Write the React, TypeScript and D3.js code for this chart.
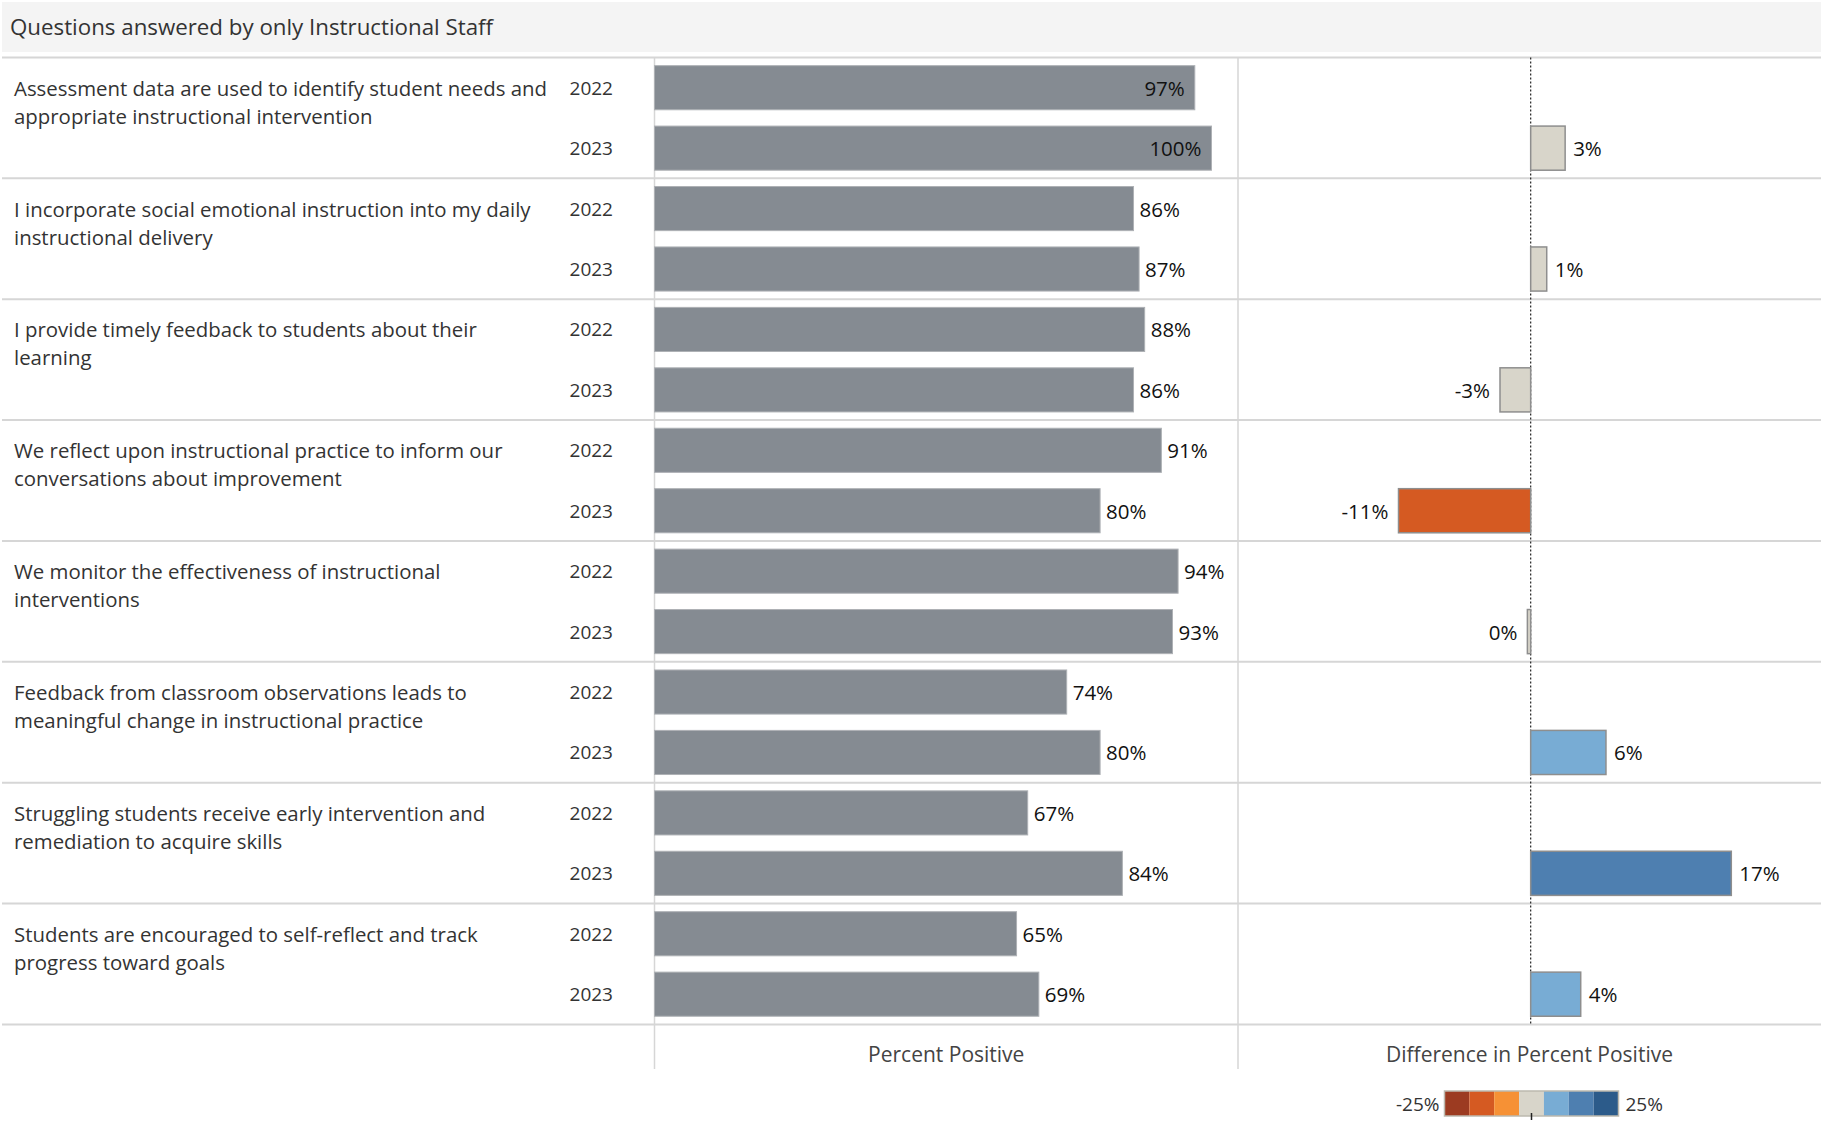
import React from "react";
import * as d3 from "d3";

const title = "Questions answered by only Instructional Staff";
const questions: string[] = [
  "Assessment data are used to identify student needs and\nappropriate instructional intervention",
  "I incorporate social emotional instruction into my daily\ninstructional delivery",
  "I provide timely feedback to students about their\nlearning",
  "We reflect upon instructional practice to inform our\nconversations about improvement",
  "We monitor the effectiveness of instructional\ninterventions",
  "Feedback from classroom observations leads to\nmeaningful change in instructional practice",
  "Struggling students receive early intervention and\nremediation to acquire skills",
  "Students are encouraged to self-reflect and track\nprogress toward goals",
];
const years = ["2022", "2023"];
const pct2022 = [0.97, 0.86, 0.88, 0.91, 0.94, 0.74, 0.67, 0.65];
const pct2023 = [1.0, 0.87, 0.86, 0.8, 0.93, 0.8, 0.84, 0.69];
const diff = [0.0292, 0.0136, -0.026, -0.112, -0.0028, 0.0638, 0.17, 0.0424];
const legendColors = ["#9c3b21", "#d55a22", "#f69135", "#d8d5ca", "#78acd4", "#4e7fb0", "#2c5b8a"];
const legendDomain = [-0.25, 0.25];
const axisTitles = ["Percent Positive", "Difference in Percent Positive"];

const FONT = "'Open Sans', 'Noto Sans', sans-serif";
const W = 1821;
const H = 1123;

export default function App() {
  const rowsTop = 57.5;
  const rowsBottom = 1024.4;
  const panel1X0 = 654.5;
  const panel2X0 = 1238;
  const panelRight = 1821;

  const rowScale = d3.scaleBand<number>().domain(d3.range(questions.length)).range([rowsTop, rowsBottom]);
  const keys: string[] = [];
  questions.forEach((_, i) => years.forEach((y) => keys.push(`${i}-${y}`)));
  const yBand = d3.scaleBand<string>().domain(keys).range([rowsTop, rowsBottom]).paddingInner(0.27).paddingOuter(0.135);

  const x = d3.scaleLinear().domain([0, 1]).range([panel1X0, 1211.5]);
  const xd = d3.scaleLinear().domain([-0.248, 0.246]).range([panel2X0, panelRight]);
  const color = d3.scaleQuantize<string>().domain(legendDomain as [number, number]).range(legendColors);
  const fmt = (v: number) => {
    const r = Math.round(v * 100);
    return `${r === 0 ? 0 : r}%`;
  };

  const bars: { key: string; v: number; year: string; i: number }[] = [];
  questions.forEach((_, i) => {
    bars.push({ key: `${i}-2022`, v: pct2022[i], year: "2022", i });
    bars.push({ key: `${i}-2023`, v: pct2023[i], year: "2023", i });
  });

  const bw = yBand.bandwidth();
  const zeroX = xd(0);

  const legX0 = 1444.5;
  const legX1 = 1618.5;
  const legScale = d3.scaleLinear().domain(legendDomain).range([legX0, legX1]);
  const legStep = (legendDomain[1] - legendDomain[0]) / legendColors.length;

  return (
    <svg width={W} height={H} style={{ position: "absolute", left: 0, top: 0, background: "#fff" }} fontFamily={FONT}>
      <rect x={2} y={2} width={W - 2} height={50} fill="#f4f4f4" />
      <text x={10} y={35} fontSize={22.3} fill="#333">{title}</text>

      <line x1={panel1X0} x2={panel1X0} y1={rowsTop} y2={1069} stroke="#d6d6d6" strokeWidth={1.5} />
      <line x1={panel2X0} x2={panel2X0} y1={rowsTop} y2={1069} stroke="#d6d6d6" strokeWidth={1.5} />

      {d3.range(questions.length + 1).map((k) => {
        const yy = k < questions.length ? rowScale(k)! : rowsBottom;
        return <line key={k} x1={2} x2={W} y1={yy} y2={yy} stroke="#d6d6d6" strokeWidth={2} />;
      })}

      {questions.map((q, i) => {
        const c = yBand(`${i}-2022`)! + bw / 2;
        return (
          <text key={i} x={14} y={c} fontSize={20.4} fill="#333" dominantBaseline="central">
            {q.split("\n").map((line, j) => (
              <tspan key={j} x={14} dy={j === 0 ? 0 : 28}>{line}</tspan>
            ))}
          </text>
        );
      })}

      {bars.map((b) => (
        <text key={"y" + b.key} x={613} y={yBand(b.key)! + bw / 2} fontSize={19} fill="#333" textAnchor="end" dominantBaseline="central">
          {b.year}
        </text>
      ))}

      {bars.map((b) => {
        const y0 = yBand(b.key)!;
        const xe = x(b.v);
        const label = fmt(b.v);
        const inside = xe + 6 + label.length * 13 > panel2X0 - 2;
        return (
          <g key={"b" + b.key}>
            <rect x={x(0)} y={y0} width={xe - x(0)} height={bw} fill="#858b92" stroke="#aeb1b5" strokeWidth={1} />
            <text
              x={inside ? xe - 10 : xe + 6}
              y={y0 + bw / 2}
              fontSize={20.5}
              fill="#111"
              textAnchor={inside ? "end" : "start"}
              dominantBaseline="central"
            >
              {label}
            </text>
          </g>
        );
      })}

      <line x1={zeroX} x2={zeroX} y1={rowsTop} y2={rowsBottom} stroke="#222" strokeWidth={1.2} strokeDasharray="2,2" />

      {diff.map((d, i) => {
        const key = `${i}-2023`;
        const y0 = yBand(key)!;
        const xa = Math.min(xd(0), xd(d));
        const wdt = Math.abs(xd(d) - xd(0));
        const neg = d < 0;
        return (
          <g key={"d" + i}>
            <rect x={xa} y={y0} width={wdt} height={bw} fill={color(d)} stroke="#8e8e8e" strokeWidth={1.5} />
            <text
              x={neg ? xa - 10 : xa + wdt + 8}
              y={y0 + bw / 2}
              fontSize={20.5}
              fill="#111"
              textAnchor={neg ? "end" : "start"}
              dominantBaseline="central"
            >
              {fmt(d)}
            </text>
          </g>
        );
      })}

      <text x={(panel1X0 + panel2X0) / 2} y={1062} fontSize={21} fill="#444" textAnchor="middle">{axisTitles[0]}</text>
      <text x={(panel2X0 + panelRight) / 2} y={1062} fontSize={21} fill="#444" textAnchor="middle">{axisTitles[1]}</text>

      {legendColors.map((c, k) => {
        const a = legendDomain[0] + k * legStep;
        return <rect key={c} x={legScale(a)} y={1091} width={legScale(a + legStep) - legScale(a)} height={25} fill={c} />;
      })}
      <rect x={legX0} y={1091} width={legX1 - legX0} height={25} fill="none" stroke="#bcb9ae" strokeWidth={1.5} />
      <line x1={legScale(0)} x2={legScale(0)} y1={1113} y2={1120} stroke="#222" strokeWidth={1.5} />
      <text x={legX0 - 5} y={1104} fontSize={19} fill="#333" textAnchor="end" dominantBaseline="central">{fmt(legendDomain[0])}</text>
      <text x={legX1 + 7} y={1104} fontSize={19} fill="#333" textAnchor="start" dominantBaseline="central">{fmt(legendDomain[1])}</text>
    </svg>
  );
}
